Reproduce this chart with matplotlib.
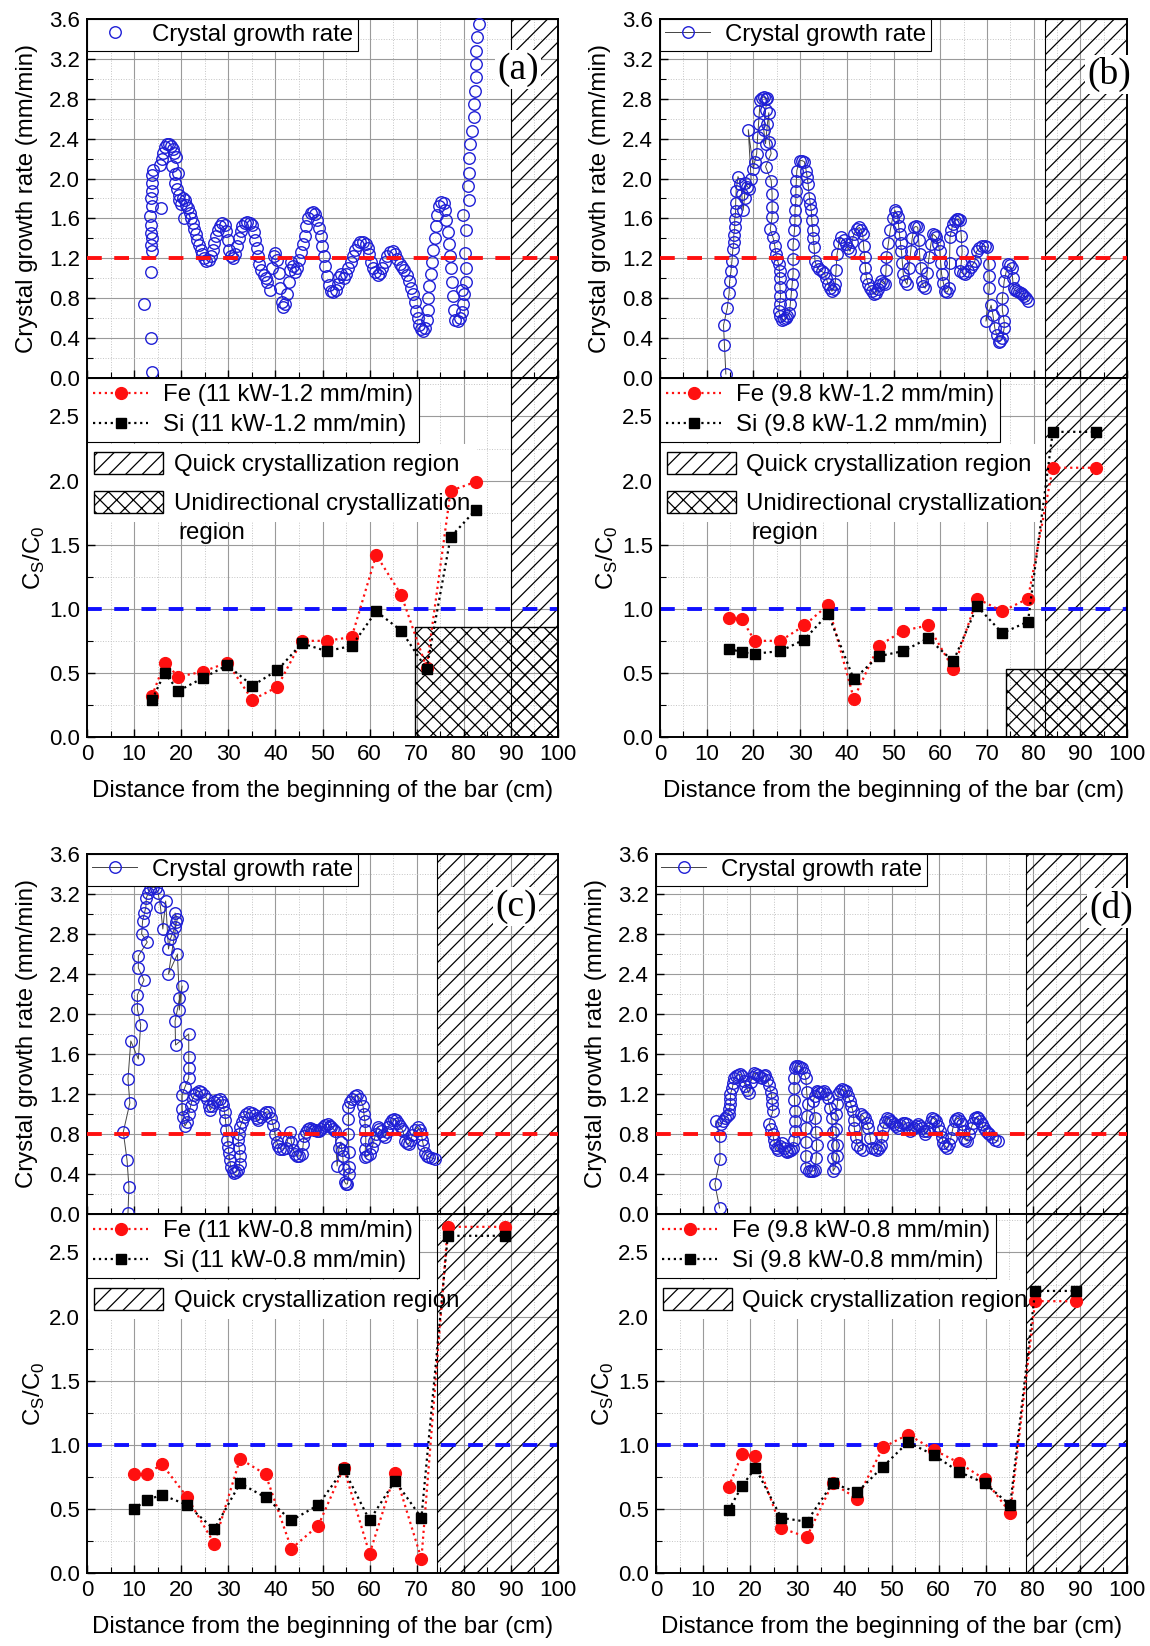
import matplotlib
matplotlib.use("Agg")
import matplotlib.pyplot as plt
from matplotlib.lines import Line2D
from matplotlib.patches import Patch, Rectangle
from matplotlib.ticker import MultipleLocator, FormatStrFormatter

plt.rcParams['font.family'] = ['Liberation Sans', 'DejaVu Sans']
plt.rcParams['mathtext.fontset'] = 'custom'
plt.rcParams['mathtext.rm'] = 'Liberation Sans'
plt.rcParams['hatch.linewidth'] = 0.9

# ---------------- DATA ----------------
panel_labels = ['(a)', '(b)', '(c)', '(d)']
target_rate = [1.2, 1.2, 0.8, 0.8]
fe_labels = ['Fe (11 kW-1.2 mm/min)', 'Fe (9.8 kW-1.2 mm/min)',
             'Fe (11 kW-0.8 mm/min)', 'Fe (9.8 kW-0.8 mm/min)']
si_labels = ['Si (11 kW-1.2 mm/min)', 'Si (9.8 kW-1.2 mm/min)',
             'Si (11 kW-0.8 mm/min)', 'Si (9.8 kW-0.8 mm/min)']
quick_start = [90.0, 82.5, 74.3, 78.5]
uni_region = [(69.7, 0.86), (74.1, 0.53), None, None]   # (start x, height)

# growth rate (a)
ga_x = [12.1, 13.8, 13.65, 13.65, 13.7, 13.6, 13.7, 13.5, 13.6, 13.4, 13.7, 13.6, 13.8, 13.7, 13.8, 14.0,
        15.8, 15.6, 15.9, 16.2, 16.6, 17.0, 17.5, 17.9, 18.2, 18.5, 18.9, 18.0, 18.6, 18.7, 19.4, 19.2,
        19.5, 19.6, 20.0, 20.4, 20.8, 21.0, 20.5, 21.4, 21.8, 22.1, 22.4, 22.8, 23.1, 23.4, 23.8, 24.1,
        24.5, 24.9, 25.3, 25.8, 26.3, 26.7, 27.0, 27.4, 27.8, 28.2, 28.7, 29.2, 29.6, 29.9, 30.2, 30.6,
        31.0, 31.4, 31.8, 32.2, 32.6, 33.0, 33.5, 34.0, 34.6, 35.1, 35.4, 35.7, 36.0, 36.3, 36.6, 37.0,
        37.5, 37.9, 38.3, 38.8, 39.3, 39.6, 40.0, 40.4, 40.7, 41.0, 41.3, 41.7, 42.1, 42.5, 42.8, 43.0,
        43.4, 43.8, 44.2, 44.6, 45.0, 45.4, 45.8, 46.2, 46.6, 47.0, 47.5, 48.0, 48.5, 48.9, 49.2, 49.6,
        49.9, 50.3, 50.6, 50.9, 51.3, 51.8, 52.3, 52.8, 53.2, 53.6, 54.0, 54.5, 55.0, 55.5, 56.0, 56.5,
        57.0, 57.5, 58.0, 58.6, 59.2, 59.6, 59.9, 60.3, 60.7, 61.2, 61.7, 62.2, 62.7, 63.2, 63.7, 64.3,
        64.9, 65.4, 65.9, 66.4, 66.9, 67.4, 67.9, 68.4, 68.8, 69.2, 69.6, 69.9, 70.2, 70.5, 70.9, 71.4,
        71.8, 72.1, 72.3, 72.5, 72.7, 73.0, 73.2, 73.5, 73.8, 74.1, 74.4, 74.8, 75.2, 75.7, 76.0, 76.3,
        76.6, 76.9, 77.1, 77.3, 77.5, 77.7, 77.9, 78.2, 78.7, 79.2, 79.6, 79.9, 80.1, 79.6, 80.4, 80.5,
        80.3, 80.4, 79.9, 81.1, 80.8, 81.1, 81.2, 81.3, 81.8, 82.1, 82.2, 82.4, 82.5, 82.5, 82.6, 82.8, 83.3]
ga_y = [0.74, 0.06, 0.40, 1.06, 1.27, 1.33, 1.40, 1.45, 1.53, 1.62, 1.72, 1.80, 1.88, 1.96, 2.04, 2.09,
        1.70, 2.14, 2.20, 2.26, 2.32, 2.35, 2.35, 2.33, 2.30, 2.26, 2.22, 2.13, 2.05, 1.96, 2.06, 1.90,
        1.84, 1.78, 1.74, 1.80, 1.78, 1.73, 1.60, 1.70, 1.65, 1.60, 1.55, 1.49, 1.44, 1.38, 1.33, 1.28,
        1.24, 1.20, 1.17, 1.18, 1.22, 1.28, 1.35, 1.42, 1.48, 1.52, 1.55, 1.53, 1.47, 1.38, 1.28, 1.22,
        1.20, 1.24, 1.32, 1.40, 1.47, 1.52, 1.55, 1.56, 1.55, 1.53, 1.46, 1.38, 1.30, 1.22, 1.14, 1.08,
        1.03, 1.00, 0.96, 0.88, 1.10, 1.22, 1.25, 1.18, 1.05, 0.90, 0.76, 0.71, 0.74, 0.84, 0.96, 1.08,
        1.16, 1.12, 1.06, 1.10, 1.18, 1.26, 1.34, 1.42, 1.52, 1.60, 1.65, 1.66, 1.64, 1.58, 1.50, 1.42,
        1.32, 1.22, 1.12, 1.02, 0.93, 0.87, 0.86, 0.88, 0.94, 1.01, 1.04, 1.00, 1.04, 1.10, 1.16, 1.22,
        1.28, 1.33, 1.36, 1.36, 1.34, 1.30, 1.24, 1.16, 1.10, 1.06, 1.03, 1.05, 1.10, 1.16, 1.22, 1.26,
        1.27, 1.24, 1.19, 1.14, 1.11, 1.08, 1.03, 0.97, 0.90, 0.84, 0.76, 0.67, 0.60, 0.53, 0.49, 0.47,
        0.50, 0.58, 0.68, 0.80, 0.92, 1.04, 1.16, 1.28, 1.40, 1.52, 1.63, 1.72, 1.76, 1.75, 1.68, 1.58,
        1.46, 1.34, 1.22, 1.10, 0.96, 0.82, 0.68, 0.58, 0.57, 0.60, 0.66, 0.74, 0.84, 0.88, 0.96, 1.10,
        1.25, 1.48, 1.63, 1.78, 1.93, 2.06, 2.21, 2.35, 2.48, 2.62, 2.75, 2.88, 3.02, 3.15, 3.28, 3.42, 3.55]

# growth rate (b)
gb_x = [14.1, 13.8, 13.6, 14.4, 14.8, 14.9, 15.2, 15.4, 15.6, 15.8, 15.8, 16.0, 16.0, 16.2, 16.2, 16.3,
        16.7, 17.2, 17.5, 17.8, 18.1, 18.3, 18.7, 19.1, 19.5, 18.9, 20.0, 20.3, 20.7, 20.9, 21.1, 21.3,
        21.5, 21.9, 22.2, 22.6, 23.0, 22.6, 22.2, 22.6, 23.0, 23.3, 23.4, 23.8, 22.6, 23.8, 24.0, 24.0,
        24.0, 23.6, 24.2, 24.6, 24.8, 25.1, 25.4, 25.6, 25.6, 25.7, 25.8, 25.6, 25.4, 25.8, 26.2, 26.6,
        26.9, 27.3, 27.7, 27.9, 28.1, 28.3, 28.5, 28.5, 28.5, 28.8, 28.9, 28.9, 29.1, 29.1, 29.2, 29.3,
        29.9, 30.4, 30.9, 31.3, 31.5, 31.7, 32.0, 32.2, 32.4, 32.5, 32.7, 32.8, 33.0, 33.2, 33.6, 34.0,
        34.6, 35.2, 35.6, 36.0, 36.4, 36.8, 37.2, 37.5, 37.7, 37.9, 38.3, 38.7, 39.3, 39.9, 40.3, 40.7,
        41.1, 41.5, 42.1, 42.7, 43.1, 43.4, 43.6, 43.8, 44.0, 44.2, 44.6, 45.0, 45.4, 45.8, 46.2, 46.6,
        47.0, 47.4, 47.8, 48.2, 48.4, 48.5, 48.9, 49.3, 49.8, 50.3, 50.6, 50.9, 51.1, 51.3, 51.5, 51.7,
        51.9, 52.1, 52.5, 52.9, 53.3, 53.7, 54.0, 54.4, 54.8, 55.2, 55.4, 55.6, 55.8, 56.0, 56.4, 56.8,
        57.2, 57.6, 58.0, 58.4, 58.8, 59.2, 59.6, 59.9, 60.1, 60.3, 60.7, 61.1, 61.5, 61.9, 62.0, 62.1,
        62.4, 62.7, 63.1, 63.5, 63.9, 64.3, 64.5, 64.7, 64.5, 64.3, 64.8, 65.4, 66.0, 66.6, 67.0, 67.4,
        67.8, 68.4, 69.0, 69.6, 70.1, 70.4, 70.5, 70.5, 69.8, 70.9, 71.3, 71.7, 72.1, 72.5, 72.9, 73.3,
        73.7, 73.7, 73.3, 73.3, 73.7, 74.1, 74.5, 74.9, 75.3, 75.5, 75.7, 76.0, 76.4, 76.8, 77.2, 77.6,
        78.0, 78.4, 78.8]
gb_y = [0.04, 0.33, 0.53, 0.70, 0.85, 0.97, 1.07, 1.17, 1.29, 1.36, 1.43, 1.51, 1.59, 1.67, 1.75, 1.88,
        2.02, 1.95, 1.85, 1.68, 1.81, 1.96, 1.92, 1.90, 2.00, 2.49, 2.10, 2.17, 2.25, 2.42, 2.55, 2.68,
        2.79, 2.81, 2.82, 2.80, 2.81, 2.69, 2.49, 2.35, 2.55, 2.66, 2.37, 2.25, 2.12, 1.98, 1.85, 1.71,
        1.61, 1.49, 1.41, 1.32, 1.24, 1.19, 1.14, 1.07, 1.00, 0.91, 0.82, 0.74, 0.67, 0.62, 0.58, 0.59,
        0.60, 0.62, 0.65, 0.74, 0.84, 0.94, 1.04, 1.19, 1.34, 1.48, 1.58, 1.68, 1.78, 1.88, 1.98, 2.08,
        2.18, 2.18, 2.17, 2.08, 2.02, 1.95, 1.81, 1.74, 1.68, 1.58, 1.48, 1.40, 1.31, 1.17, 1.12, 1.09,
        1.07, 1.05, 1.00, 0.94, 0.90, 0.87, 0.89, 0.94, 1.08, 1.24, 1.35, 1.41, 1.38, 1.34, 1.30, 1.27,
        1.36, 1.44, 1.49, 1.51, 1.48, 1.44, 1.32, 1.21, 1.10, 1.00, 0.94, 0.90, 0.87, 0.84, 0.85, 0.89,
        0.93, 0.97, 0.95, 0.94, 1.08, 1.21, 1.35, 1.48, 1.60, 1.68, 1.66, 1.61, 1.52, 1.44, 1.35, 1.27,
        1.15, 1.04, 0.97, 0.94, 1.10, 1.27, 1.40, 1.51, 1.52, 1.51, 1.38, 1.24, 1.10, 0.97, 0.92, 0.90,
        1.05, 1.21, 1.34, 1.44, 1.43, 1.41, 1.34, 1.27, 1.15, 1.04, 0.95, 0.87, 0.86, 0.90, 1.15, 1.41,
        1.48, 1.54, 1.57, 1.59, 1.59, 1.58, 1.42, 1.27, 1.15, 1.07, 1.05, 1.04, 1.07, 1.11, 1.14, 1.17,
        1.27, 1.30, 1.32, 1.32, 1.31, 1.14, 1.02, 0.90, 0.57, 0.73, 0.63, 0.50, 0.43, 0.36, 0.37, 0.40,
        0.50, 0.57, 0.68, 0.80, 0.97, 1.06, 1.14, 1.13, 1.10, 1.00, 0.90, 0.88, 0.87, 0.86, 0.85, 0.84,
        0.82, 0.80, 0.77]

# growth rate (c)
gc_x = [8.7, 8.9, 8.5, 7.7, 9.1, 8.7, 9.3, 10.9, 11.4, 10.7, 10.7, 12.1, 10.9, 10.9, 12.8, 11.6,
        11.8, 12.2, 12.5, 12.6, 13.0, 13.4, 14.0, 14.6, 15.1, 15.6, 16.1, 16.7, 17.3, 17.7, 18.1, 18.7,
        18.7, 19.2, 19.0, 17.3, 19.2, 19.6, 19.6, 20.2, 18.7, 18.8, 21.6, 21.6, 21.6, 21.6, 20.8, 20.2,
        20.2, 20.4, 20.8, 21.3, 21.6, 22.0, 22.4, 22.8, 23.1, 23.7, 24.3, 24.9, 25.5, 25.9, 26.2, 26.6,
        27.0, 27.6, 28.2, 28.6, 28.9, 29.2, 29.4, 29.6, 29.8, 30.0, 30.1, 30.3, 30.5, 30.9, 31.3, 31.7,
        32.1, 32.4, 32.5, 32.3, 32.1, 32.3, 32.5, 32.9, 33.3, 33.8, 34.4, 35.0, 35.6, 36.0, 36.4, 36.9,
        37.5, 38.1, 38.7, 39.1, 39.5, 39.9, 40.3, 40.6, 41.0, 41.6, 42.2, 42.6, 43.0, 43.4, 43.8, 44.2,
        44.5, 45.1, 45.7, 45.9, 46.1, 46.5, 46.9, 47.3, 47.7, 48.1, 48.4, 48.8, 49.2, 49.6, 50.0, 50.6,
        51.2, 51.6, 51.9, 52.3, 52.7, 53.1, 53.5, 53.9, 54.1, 54.3, 54.5, 54.7, 55.0, 55.3, 55.6, 55.6,
        55.6, 55.5, 55.5, 55.5, 55.8, 56.2, 56.8, 57.4, 58.0, 58.6, 58.8, 59.0, 59.1, 59.2, 59.1, 59.0,
        59.5, 60.1, 60.5, 60.9, 61.3, 61.7, 62.1, 62.5, 62.9, 63.2, 63.6, 64.0, 64.4, 64.8, 65.2, 65.6,
        66.0, 66.4, 66.8, 67.1, 67.5, 67.9, 68.3, 68.7, 69.1, 69.6, 70.2, 70.6, 71.0, 71.2, 71.4, 71.8,
        72.2, 72.6, 73.2, 73.8]
gc_y = [0.01, 0.27, 0.54, 0.82, 1.11, 1.35, 1.73, 1.55, 1.89, 2.05, 2.19, 2.34, 2.46, 2.58, 2.72, 2.80,
        2.93, 3.01, 3.07, 3.16, 3.21, 3.25, 3.27, 3.26, 3.21, 3.07, 2.85, 3.13, 2.65, 2.75, 2.80, 2.87,
        3.01, 2.95, 2.92, 2.40, 2.60, 2.16, 2.04, 2.28, 1.93, 1.69, 1.80, 1.57, 1.46, 1.36, 1.27, 1.19,
        1.05, 0.97, 0.88, 0.92, 1.00, 1.08, 1.15, 1.19, 1.21, 1.23, 1.22, 1.19, 1.15, 1.08, 1.04, 1.08,
        1.12, 1.14, 1.15, 1.12, 1.09, 1.02, 0.94, 0.84, 0.74, 0.67, 0.61, 0.54, 0.47, 0.43, 0.41, 0.42,
        0.44, 0.50, 0.58, 0.66, 0.74, 0.80, 0.87, 0.92, 0.97, 1.00, 1.02, 1.01, 0.99, 0.96, 0.94, 0.97,
        1.00, 1.02, 1.02, 0.96, 0.89, 0.80, 0.72, 0.68, 0.65, 0.65, 0.66, 0.74, 0.82, 0.72, 0.64, 0.60,
        0.58, 0.58, 0.60, 0.70, 0.78, 0.82, 0.85, 0.86, 0.85, 0.84, 0.84, 0.83, 0.83, 0.85, 0.87, 0.89,
        0.90, 0.88, 0.87, 0.85, 0.83, 0.48, 0.66, 0.72, 0.64, 0.58, 0.45, 0.32, 0.30, 0.30, 0.40, 0.47,
        0.62, 0.80, 0.95, 1.07, 1.12, 1.15, 1.18, 1.19, 1.15, 1.08, 1.00, 0.93, 0.84, 0.74, 0.65, 0.57,
        0.58, 0.60, 0.66, 0.73, 0.80, 0.87, 0.85, 0.83, 0.79, 0.77, 0.82, 0.87, 0.91, 0.94, 0.95, 0.94,
        0.91, 0.88, 0.85, 0.83, 0.73, 0.71, 0.70, 0.74, 0.79, 0.84, 0.87, 0.84, 0.80, 0.74, 0.69, 0.61,
        0.58, 0.57, 0.56, 0.55]

# growth rate (d)
gd_x = [13.5, 12.5, 13.6, 13.5, 12.7, 13.9, 14.3, 14.7, 15.1, 15.4, 15.6, 15.8, 15.8, 15.8, 16.2, 16.4,
        16.6, 17.0, 17.4, 17.8, 18.2, 18.6, 19.0, 19.4, 19.7, 20.1, 20.5, 20.9, 21.3, 21.7, 22.1, 22.5,
        22.9, 23.2, 23.6, 24.0, 24.4, 24.6, 24.7, 24.8, 24.0, 24.5, 24.8, 25.0, 25.2, 25.6, 26.0, 26.4,
        26.7, 27.1, 27.5, 27.9, 28.3, 28.7, 29.1, 29.3, 29.5, 29.5, 29.5, 29.4, 29.3, 29.4, 29.5, 29.8,
        30.2, 30.6, 31.0, 31.4, 31.8, 32.0, 32.2, 32.0, 31.8, 31.8, 31.8, 31.8, 32.4, 33.0, 33.4, 33.8,
        34.0, 34.1, 33.9, 33.8, 33.4, 33.7, 34.1, 34.5, 34.9, 35.3, 35.7, 36.1, 36.5, 36.9, 37.3, 37.5,
        37.6, 37.6, 37.6, 38.0, 38.4, 38.4, 38.2, 38.2, 38.5, 38.7, 39.0, 39.4, 39.9, 40.4, 40.8, 41.2,
        41.5, 41.8, 42.0, 42.1, 42.4, 42.7, 43.3, 43.9, 43.5, 43.9, 44.3, 44.7, 45.1, 45.5, 45.8, 46.4,
        47.0, 47.4, 47.8, 48.0, 48.2, 48.6, 49.0, 49.4, 49.7, 50.1, 50.5, 50.9, 51.3, 51.9, 52.5, 52.9,
        53.2, 53.6, 54.0, 54.4, 54.8, 55.2, 55.6, 56.0, 56.4, 56.8, 57.1, 57.5, 57.9, 58.3, 58.7, 59.1,
        59.5, 59.9, 60.3, 60.7, 61.0, 61.4, 61.8, 62.2, 62.6, 63.0, 63.4, 63.8, 64.2, 64.6, 64.9, 65.1,
        65.3, 65.7, 66.1, 66.5, 66.9, 67.3, 67.7, 68.1, 68.4, 68.8, 69.2, 69.6, 70.0, 70.4, 70.8, 71.3,
        71.9, 72.7]
gd_y = [0.06, 0.30, 0.55, 0.78, 0.93, 0.90, 0.93, 0.96, 0.98, 1.00, 1.05, 1.10, 1.15, 1.20, 1.26, 1.31,
        1.36, 1.38, 1.39, 1.40, 1.38, 1.33, 1.28, 1.24, 1.21, 1.32, 1.37, 1.41, 1.40, 1.39, 1.37, 1.36,
        1.38, 1.39, 1.34, 1.29, 1.22, 1.16, 1.10, 1.03, 0.90, 0.85, 0.80, 0.74, 0.69, 0.66, 0.64, 0.68,
        0.71, 0.66, 0.63, 0.62, 0.63, 0.64, 0.66, 0.74, 0.83, 0.93, 1.03, 1.14, 1.26, 1.36, 1.46, 1.48,
        1.48, 1.47, 1.46, 1.41, 1.36, 1.22, 1.10, 0.98, 0.86, 0.72, 0.58, 0.46, 0.43, 0.43, 0.43, 0.44,
        0.56, 0.69, 0.82, 0.96, 1.13, 1.18, 1.23, 1.22, 1.21, 1.22, 1.23, 1.20, 1.16, 1.06, 0.96, 0.82,
        0.69, 0.56, 0.43, 0.46, 0.58, 0.69, 0.85, 1.00, 1.10, 1.20, 1.23, 1.25, 1.24, 1.23, 1.18, 1.13,
        1.08, 1.03, 0.94, 0.86, 0.77, 0.69, 0.66, 0.64, 1.00, 0.98, 0.96, 0.91, 0.86, 0.76, 0.66, 0.65,
        0.64, 0.66, 0.69, 0.78, 0.86, 0.92, 0.96, 0.95, 0.93, 0.92, 0.90, 0.88, 0.86, 0.89, 0.91, 0.91,
        0.90, 0.86, 0.83, 0.85, 0.86, 0.88, 0.90, 0.88, 0.86, 0.83, 0.80, 0.83, 0.86, 0.92, 0.96, 0.95,
        0.93, 0.88, 0.83, 0.77, 0.71, 0.68, 0.66, 0.70, 0.76, 0.85, 0.93, 0.95, 0.96, 0.93, 0.90, 0.83,
        0.76, 0.74, 0.73, 0.80, 0.86, 0.91, 0.96, 0.97, 0.96, 0.93, 0.90, 0.86, 0.83, 0.81, 0.80, 0.77,
        0.74, 0.73]

# solute distribution Cs/C0
fa_x = [13.8, 16.5, 19.4, 24.6, 29.8, 35.1, 40.4, 45.6, 50.9, 56.2, 61.4, 66.7, 72.1, 77.2, 82.5]
fa_fe = [0.32, 0.58, 0.47, 0.51, 0.58, 0.29, 0.39, 0.75, 0.75, 0.78, 1.42, 1.11, 0.54, 1.92, 1.99]
fa_si = [0.29, 0.50, 0.36, 0.46, 0.56, 0.40, 0.52, 0.73, 0.67, 0.71, 0.98, 0.83, 0.53, 1.56, 1.77]

fb_x = [14.8, 17.5, 20.3, 25.8, 30.9, 36.0, 41.5, 46.8, 52.1, 57.4, 62.8, 67.9, 73.3, 78.8, 84.1, 93.3]
fb_fe = [0.93, 0.92, 0.75, 0.75, 0.87, 1.03, 0.30, 0.71, 0.83, 0.87, 0.53, 1.08, 0.98, 1.08, 2.10, 2.10]
fb_si = [0.69, 0.66, 0.65, 0.67, 0.76, 0.96, 0.45, 0.63, 0.67, 0.77, 0.59, 1.02, 0.81, 0.90, 2.38, 2.38]

fc_x = [9.9, 12.8, 15.9, 21.3, 27.0, 32.5, 37.9, 43.4, 49.1, 54.5, 60.0, 65.4, 71.0, 76.6, 88.7]
fc_fe = [0.77, 0.77, 0.85, 0.59, 0.23, 0.89, 0.77, 0.19, 0.37, 0.82, 0.15, 0.78, 0.11, 2.70, 2.70]
fc_si = [0.50, 0.57, 0.61, 0.53, 0.34, 0.70, 0.59, 0.41, 0.53, 0.81, 0.41, 0.72, 0.43, 2.63, 2.63]

fd_x = [15.4, 18.3, 21.1, 26.6, 32.0, 37.5, 42.7, 48.2, 53.5, 59.0, 64.3, 69.8, 75.2, 80.5, 89.1]
fd_fe = [0.67, 0.93, 0.91, 0.35, 0.28, 0.70, 0.58, 0.98, 1.08, 0.96, 0.86, 0.73, 0.47, 2.12, 2.12]
fd_si = [0.49, 0.68, 0.82, 0.43, 0.40, 0.70, 0.63, 0.83, 1.02, 0.92, 0.79, 0.70, 0.53, 2.20, 2.20]

growth = [(ga_x, ga_y), (gb_x, gb_y), (gc_x, gc_y), (gd_x, gd_y)]
solute = [(fa_x, fa_fe, fa_si), (fb_x, fb_fe, fb_si), (fc_x, fc_fe, fc_si), (fd_x, fd_fe, fd_si)]
connect_line = [False, True, True, True]

# ---------------- LAYOUT ----------------
W, H = 1150, 1646
fig = plt.figure(figsize=(W / 100, H / 100), dpi=100)

def rect(l, r, t, b):
    return [l / W, 1 - b / H, (r - l) / W, (b - t) / H]

col_lr = [(87, 558), (660, 1127), (87, 558), (656, 1127)]
row_tmb = [(19, 378, 737), (19, 378, 737), (854, 1214, 1573), (854, 1214, 1573)]
label_pos = [(0.915, 0.86), (0.962, 0.845), (0.911, 0.853), (0.966, 0.85)]

BLUE = '#1f1fd6'
FS = 17.3
TFS = 16
MS = 8.3

def style_axis(ax, ymax, ymaj, ymin):
    ax.set_xlim(0, 100)
    ax.set_ylim(0, ymax)
    ax.xaxis.set_major_locator(MultipleLocator(10))
    ax.xaxis.set_minor_locator(MultipleLocator(5))
    ax.yaxis.set_major_locator(MultipleLocator(ymaj))
    ax.yaxis.set_minor_locator(MultipleLocator(ymin))
    ax.yaxis.set_major_formatter(FormatStrFormatter('%.1f'))
    ax.grid(which='major', color='#9a9a9a', lw=0.8)
    ax.grid(which='minor', color='#c4c4c4', lw=0.7, ls=':')
    ax.set_axisbelow(True)
    ax.tick_params(which='both', direction='in', labelsize=TFS, pad=5)
    ax.tick_params(which='major', length=6, width=1)
    ax.tick_params(which='minor', length=4, width=0.8)
    for s in ax.spines.values():
        s.set_linewidth(1.4)

for i in range(4):
    l, r = col_lr[i]
    t, m, b = row_tmb[i]
    ax1 = fig.add_axes(rect(l, r, t, m))
    ax2 = fig.add_axes(rect(l, r, m, b))
    style_axis(ax1, 3.6, 0.4, 0.2)
    style_axis(ax2, 2.8, 0.5, 0.25)
    ax2.set_yticks([0, 0.5, 1.0, 1.5, 2.0, 2.5])
    ax1.tick_params(labelbottom=False)
    ax2.set_xticks(range(0, 101, 10))
    ax2.set_xticklabels([str(v) for v in range(0, 101, 10)])

    # regions
    for ax in (ax1, ax2):
        ax.axvspan(quick_start[i], 100, facecolor='none', edgecolor='black',
                   hatch='//', lw=0.8, zorder=1.5)
    if uni_region[i] is not None:
        ux, uh = uni_region[i]
        ax2.add_patch(Rectangle((ux, 0), 100 - ux, uh, facecolor='none', edgecolor='black',
                                hatch='xx', lw=1.0, zorder=1.6))

    # growth rate
    gx, gy = growth[i]
    ax1.axhline(target_rate[i], color='#ff1010', lw=2.8, ls=(0, (3.8, 3.2)), zorder=5)
    if connect_line[i]:
        ax1.plot(gx, gy, '-', color='#444444', lw=0.7, zorder=3, clip_on=False)
    ax1.plot(gx, gy, 'o', ls='none', ms=MS, mfc='none', mec=BLUE, mew=1.0,
             zorder=4, clip_on=False)

    h_rate = Line2D([], [], color='#444444' if connect_line[i] else 'none', lw=0.7,
                    marker='o', ms=MS, mfc='none', mec=BLUE, mew=1.0)
    leg = ax1.legend([h_rate], ['Crystal growth rate'], loc='upper left',
                     bbox_to_anchor=(0, 1), borderaxespad=0, fancybox=False,
                     edgecolor='black', framealpha=1, fontsize=FS, numpoints=1,
                     handlelength=1.9, borderpad=0.2, handletextpad=0.6)
    leg.get_frame().set_linewidth(0.8)
    leg.set_zorder(10)

    ax1.text(label_pos[i][0], label_pos[i][1], panel_labels[i], transform=ax1.transAxes,
             fontsize=27, family=['Liberation Serif', 'DejaVu Serif'], ha='center', va='center',
             bbox=dict(facecolor='white', edgecolor='none', pad=1.5), zorder=11)

    ax1.set_ylabel('Crystal growth rate (mm/min)', fontsize=FS)
    ax1.yaxis.set_label_coords(-0.104, 0.5)

    # solute
    sx, sfe, ssi = solute[i]
    ax2.axhline(1.0, color='#1010ff', lw=2.8, ls=(0, (3.8, 3.2)), zorder=2)
    ax2.plot(sx, ssi, ':', color='black', lw=1.6, marker='s', ms=7.5, zorder=5)
    ax2.plot(sx, sfe, ':', color='#ff1010', lw=1.6, marker='o', ms=8.5, zorder=4)

    h_fe = Line2D([], [], color='#ff1010', ls=':', lw=1.6, marker='o', ms=8.5)
    h_si = Line2D([], [], color='black', ls=':', lw=1.6, marker='s', ms=7.5)
    leg1 = ax2.legend([h_fe, h_si], [fe_labels[i], si_labels[i]], loc='upper left',
                      bbox_to_anchor=(0, 1), borderaxespad=0, fancybox=False,
                      edgecolor='black', framealpha=1, fontsize=FS, numpoints=1,
                      handlelength=2.3, borderpad=0.25, handletextpad=0.6, labelspacing=0.35)
    leg1.get_frame().set_linewidth(0.8)
    leg1.set_zorder(10)
    ax2.add_artist(leg1)

    handles = [Patch(facecolor='white', edgecolor='black', hatch='//', lw=1.0)]
    labels = ['Quick crystallization region']
    if uni_region[i] is not None:
        handles.append(Patch(facecolor='white', edgecolor='black', hatch='xx', lw=1.0))
        labels.append('Unidirectional crystallization')
    leg2 = ax2.legend(handles, labels, loc='upper left', bbox_to_anchor=(0.0, 0.815),
                      borderaxespad=0, frameon=True, fancybox=False, facecolor='white',
                      edgecolor='none', framealpha=1, fontsize=FS, handlelength=2.85,
                      handleheight=1.08, handletextpad=0.45, borderpad=0.3, labelspacing=0.6)
    leg2.set_zorder(1.0)
    if uni_region[i] is not None:
        ax2.annotate('region', xy=(0, 0), xycoords=leg2.get_texts()[1],
                     xytext=(3.5, -5), textcoords='offset points', ha='left', va='top',
                     fontsize=FS, zorder=3)

    ax2.set_ylabel(r'C$_\mathregular{S}$/C$_\mathregular{0}$', fontsize=FS)
    ax2.yaxis.set_label_coords(-0.085, 0.5)
    ax2.set_xlabel('Distance from the beginning of the bar (cm)', fontsize=FS, labelpad=11)

fig.savefig('out.png', dpi=100, facecolor='white')
